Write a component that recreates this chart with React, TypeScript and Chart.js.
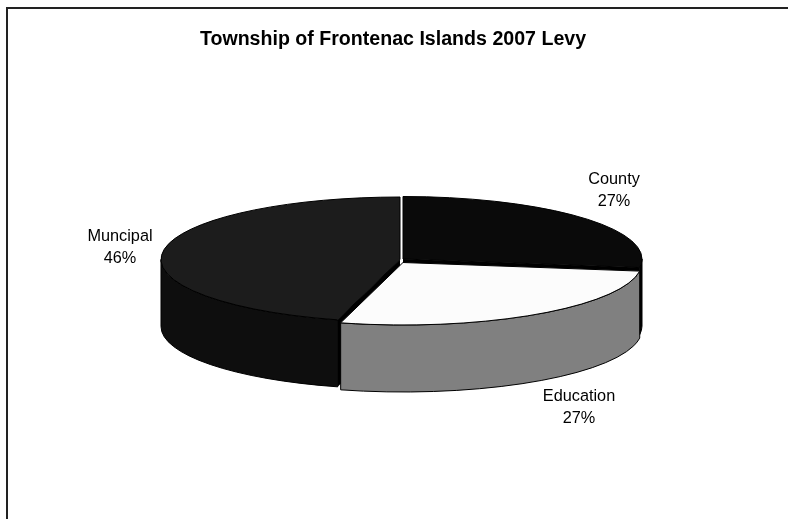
import React, { useEffect, useRef } from "react";
import { Chart, registerables } from "chart.js";

Chart.register(...registerables);

const TITLE = "Township of Frontenac Islands 2007 Levy";
const categories = ["County", "Education", "Muncipal"];
const shares = [27.2, 27, 45.8];
const percentLabels = ["27%", "27%", "46%"];
const topColors = ["#0a0a0a", "#fcfcfc", "#1c1c1c"];
const sideColors = ["#000000", "#808080", "#0e0e0e"];

// Projection of the flat pie into the tilted view
const VIEW = { cx: 401.5, cy: 260, squash: 62.5 / 239, depth: 67 };
const RADIUS = 239;
const SHIFT = [
  [1.5, -1],
  [1.5, 2.5],
  [-1.5, -0.5],
];
const LABEL_POS = [
  [614, 180],
  [579, 397],
  [120, 237],
];
const LINE_GAP = 22;

const tiltPlugin = {
  id: "tilt",
  beforeDraw(chart: any) {
    const { ctx } = chart;
    ctx.save();
    ctx.fillStyle = "#ffffff";
    ctx.fillRect(0, 0, chart.width, chart.height);
    ctx.strokeStyle = "#222222";
    ctx.lineWidth = 2;
    ctx.beginPath();
    ctx.moveTo(7, chart.height);
    ctx.lineTo(7, 8);
    ctx.lineTo(chart.width, 8);
    ctx.stroke();
    ctx.restore();
  },
  beforeDatasetDraw(chart: any) {
    const { ctx } = chart;
    const arcs = chart.getDatasetMeta(0).data;
    const ry = (r: number) => r * VIEW.squash;

    const drawWall = (i: number) => {
      const el = arcs[i];
      const x = VIEW.cx + SHIFT[i][0];
      const y = VIEW.cy + SHIFT[i][1];
      const r = el.outerRadius;
      const pt = (a: number) => [x + Math.cos(a) * r, y + Math.sin(a) * ry(r)];
      const s = Math.max(el.startAngle, 0);
      const e = Math.min(el.endAngle, Math.PI);
      // Cut faces seen through the gaps between the slices
      ctx.fillStyle = "#000000";
      const faceAngle = i === 0 ? el.endAngle : i === 2 ? el.startAngle : null;
      if (faceAngle !== null) {
        const [fx, fy] = pt(faceAngle);
        ctx.beginPath();
        ctx.moveTo(x, y);
        ctx.lineTo(fx, fy);
        ctx.lineTo(fx, fy + VIEW.depth);
        ctx.lineTo(x, y + VIEW.depth);
        ctx.closePath();
        ctx.fill();
      }
      if (s < e) {
        ctx.beginPath();
        ctx.ellipse(x, y, r, ry(r), 0, s, e);
        ctx.ellipse(x, y + VIEW.depth, r, ry(r), 0, e, s, true);
        ctx.closePath();
        ctx.fillStyle = sideColors[i];
        ctx.fill();
        ctx.strokeStyle = "#000000";
        ctx.lineWidth = 1;
        ctx.stroke();
      }
    };

    const drawTop = (i: number) => {
      const el = arcs[i];
      const x = VIEW.cx + SHIFT[i][0];
      const y = VIEW.cy + SHIFT[i][1];
      ctx.save();
      ctx.translate(x, y);
      ctx.scale(1, VIEW.squash);
      ctx.translate(-el.x, -el.y);
      el.draw(ctx);
      ctx.restore();
      ctx.beginPath();
      ctx.moveTo(x, y);
      ctx.ellipse(x, y, el.outerRadius, ry(el.outerRadius), 0, el.startAngle, el.endAngle);
      ctx.closePath();
      ctx.strokeStyle = "#000000";
      ctx.lineWidth = 1;
      ctx.stroke();
    };

    [2, 0].forEach(drawWall);
    drawTop(2);
    drawTop(0);
    drawWall(1);
    drawTop(1);
    return false;
  },
  afterDraw(chart: any) {
    const { ctx } = chart;
    ctx.save();
    ctx.font = "16.3px 'Liberation Sans'";
    ctx.fillStyle = "#000000";
    ctx.textAlign = "center";
    ctx.textBaseline = "middle";
    categories.forEach((name, i) => {
      const [x, y] = LABEL_POS[i];
      ctx.fillText(name, x, y);
      ctx.fillText(percentLabels[i], x, y + LINE_GAP);
    });
    ctx.restore();
  },
};

export default function App() {
  const ref = useRef<HTMLCanvasElement>(null);
  useEffect(() => {
    const chart = new Chart(ref.current as HTMLCanvasElement, {
      type: "pie",
      data: {
        labels: categories,
        datasets: [
          {
            data: shares,
            backgroundColor: topColors,
            borderWidth: 0,
            radius: RADIUS,
          } as any,
        ],
      },
      options: {
        responsive: false,
        animation: false,
        layout: { padding: { left: 0, right: 2 } },
        plugins: {
          legend: { display: false },
          tooltip: { enabled: false },
          title: {
            display: true,
            text: TITLE,
            color: "#000000",
            font: { family: "'Liberation Sans'", size: 19.6, weight: "bold" },
            padding: { top: 28, bottom: 10 },
          },
        },
      },
      plugins: [tiltPlugin as any],
    });
    return () => chart.destroy();
  }, []);
  return (
    <canvas
      ref={ref}
      width={788}
      height={519}
      style={{ position: "absolute", left: 0, top: 0, display: "block" }}
    />
  );
}
